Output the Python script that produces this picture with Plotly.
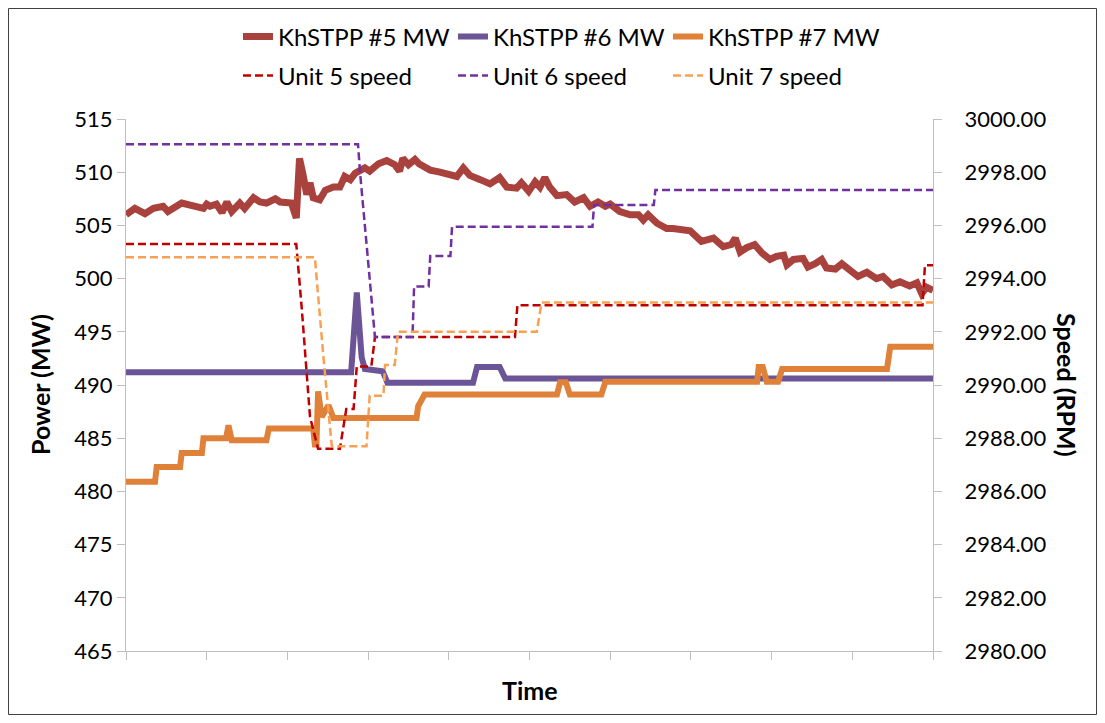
import plotly.graph_objects as go

# ---------------- data ----------------
t_mw5 = [0, 1.1, 2.35, 3.4, 4.6, 5.2, 6.9, 8.3, 9.6, 10.0, 10.4, 11.2, 11.9, 12.5, 13.1, 14.1, 14.7,
         15.8, 16.6, 17.4, 18.5, 19.1, 20.5, 21.1, 21.5, 21.9, 22.4, 22.8, 23.2, 24.0, 24.7, 25.7,
         26.5, 27.1, 27.8, 28.4, 29.0, 29.6, 30.2, 31.3, 32.3, 33.3, 33.9, 34.3, 35.0, 35.8, 36.3,
         37.7, 38.9, 40.1, 41.0, 41.8, 42.6, 43.9, 45.1, 46.3, 47.2, 48.4, 49.0, 49.9, 50.7, 51.3,
         51.9, 52.5, 53.4, 54.6, 55.6, 56.7, 57.5, 58.5, 59.4, 60.0, 61.2, 62.5, 63.5, 64.1, 64.7,
         65.8, 67.0, 67.8, 68.9, 69.9, 71.3, 72.8, 74.0, 75.0, 75.5, 76.1, 76.9, 77.9, 78.8, 79.8,
         80.6, 81.5, 81.9, 82.7, 83.9, 84.5, 85.4, 86.2, 86.8, 87.9, 88.7, 89.7, 90.7, 91.8, 93.0,
         93.8, 94.9, 95.9, 97.1, 98.0, 98.6, 99.2, 100]
mw5 = [506.0, 506.6, 506.1, 506.6, 506.8, 506.3, 507.1, 506.8, 506.6, 507.0, 506.8, 507.0, 506.2,
       507.2, 506.3, 507.1, 506.6, 507.6, 507.2, 507.1, 507.5, 507.2, 507.1, 505.7, 511.3, 509.9,
       507.9, 509.0, 507.6, 507.4, 508.3, 508.6, 508.6, 509.6, 509.3, 509.9, 510.1, 510.4, 510.1,
       510.8, 511.1, 510.7, 510.1, 511.3, 510.7, 511.2, 510.8, 510.2, 510.0, 509.8, 509.6, 510.4,
       509.7, 509.3, 508.9, 509.5, 508.6, 508.5, 509.0, 508.2, 509.1, 508.6, 509.5, 508.6, 507.8,
       507.9, 507.2, 507.6, 506.8, 507.2, 506.8, 507.0, 506.3, 506.0, 506.0, 505.5, 506.0, 505.2,
       504.7, 504.7, 504.6, 504.5, 503.5, 503.8, 503.0, 503.2, 503.8, 502.5, 502.9, 503.2, 502.4,
       501.8, 502.1, 502.2, 501.3, 501.8, 501.9, 501.1, 501.4, 501.8, 501.0, 500.9, 501.4, 500.7,
       500.2, 500.6, 500.0, 500.2, 499.4, 499.7, 499.3, 499.6, 498.6, 499.2, 498.9]

t_mw6 = [0, 27.9, 28.6, 29.2, 29.6, 31.8, 32.4, 43.0, 43.5, 46.3, 47.0, 100]
mw6 = [491.2, 491.2, 498.7, 492.6, 491.5, 491.3, 490.2, 490.2, 491.7, 491.7, 490.6, 490.6]

t_mw7 = [0, 3.6, 3.8, 6.7, 6.9, 9.4, 9.6, 12.4, 12.7, 13.1, 17.4, 17.7, 23.2, 23.4, 23.6, 23.8,
         24.25, 25.1, 25.7, 36.0, 36.2, 37.0, 53.4, 53.8, 54.5, 55.0, 58.9, 59.4, 78.2, 78.4,
         78.9, 79.4, 80.8, 81.3, 94.3, 94.7, 100]
mw7 = [480.9, 480.9, 482.3, 482.3, 483.6, 483.6, 485.0, 485.0, 486.2, 484.8, 484.8, 485.9, 485.9,
       484.4, 484.4, 489.4, 487.0, 488.1, 486.9, 486.9, 488.0, 489.1, 489.1, 490.25, 490.25, 489.1,
       489.1, 490.3, 490.3, 491.7, 491.7, 490.3, 490.3, 491.5, 491.5, 493.6, 493.6]

t_sp5 = [0, 21.1, 21.8, 22.8, 23.8, 26.5, 27.3, 28.2, 28.6, 30.4, 30.85, 48.2, 48.5, 98.7, 99.0, 100]
sp5 = [2995.3, 2995.3, 2992.8, 2988.8, 2987.6, 2987.6, 2989.1, 2989.1, 2990.7, 2990.7, 2991.8,
       2991.8, 2993.0, 2993.0, 2994.5, 2994.5]

t_sp6 = [0, 28.75, 29.0, 30.85, 35.5, 35.7, 37.5, 37.7, 40.2, 40.4, 57.8, 58.0, 65.4, 65.6, 100]
sp6 = [2999.05, 2999.05, 2998.0, 2991.8, 2991.8, 2993.7, 2993.7, 2994.85, 2994.85, 2995.95,
       2995.95, 2996.77, 2996.77, 2997.33, 2997.33]

t_sp7 = [0, 23.4, 24.45, 25.5, 29.8, 30.2, 31.9, 32.1, 33.3, 33.7, 50.9, 51.5, 100]
sp7 = [2994.8, 2994.8, 2991.1, 2987.7, 2987.7, 2989.6, 2989.6, 2990.75, 2990.75, 2992.0, 2992.0,
       2993.1, 2993.1]

names_mw = ["KhSTPP #5 MW", "KhSTPP #6 MW", "KhSTPP #7 MW"]
names_sp = ["Unit 5 speed", "Unit 6 speed", "Unit 7 speed"]
x_ticks = [0, 10, 20, 30, 40, 50, 60, 70, 80, 90, 100]
left_ticks = [465, 470, 475, 480, 485, 490, 495, 500, 505, 510, 515]
right_ticks = [2980, 2982, 2984, 2986, 2988, 2990, 2992, 2994, 2996, 2998, 3000]

# ---------------- styling ----------------
FONT = "Lato"
c_mw = ["#A9413C", "#6B5597", "#E08139"]
w_mw = [7, 6, 6]
c_sp = ["#C00000", "#7030A0", "#F9A052"]
AXC = "#BFBFBF"

fig = go.Figure()
for tx, vy, nm, cl, lw in zip([t_mw5, t_mw6, t_mw7], [mw5, mw6, mw7], names_mw, c_mw, w_mw):
    fig.add_trace(go.Scatter(x=tx, y=vy, name=nm, mode="lines",
                             line=dict(color=cl, width=lw), legend="legend"))
for tx, vy, nm, cl in zip([t_sp5, t_sp6, t_sp7], [sp5, sp6, sp7], names_sp, c_sp):
    fig.add_trace(go.Scatter(x=tx, y=vy, name=nm, mode="lines", yaxis="y2",
                             line=dict(color=cl, width=2.5, dash="8px,4px"), legend="legend2"))

# figure placed with the browser's 8px body margin; plot area at page x 126..933, y 119..651
W, H = 1089, 707
ml, mt = 118, 111
pw, ph = 807, 532
mr = W - ml - pw
mb = H - mt - ph


def px(xpage):
    return (xpage - 126) / pw


def py(ypage):
    return (651 - ypage) / ph


leg_common = dict(orientation="h", xanchor="left", yanchor="middle",
                  font=dict(size=24), bgcolor="rgba(0,0,0,0)",
                  entrywidth=170, entrywidthmode="pixels")

fig.update_layout(
    width=W, height=H,
    margin=dict(l=ml, r=mr, t=mt, b=mb, pad=0, autoexpand=False),
    paper_bgcolor="white", plot_bgcolor="white",
    font=dict(family=FONT, size=22, color="#000000"),
    xaxis=dict(range=[0, 100], tickvals=x_ticks, showticklabels=False, ticks="outside",
               ticklen=8, tickcolor=AXC, showline=True, linecolor=AXC, linewidth=1,
               showgrid=False, zeroline=False),
    yaxis=dict(range=[465, 515], tickvals=left_ticks, ticks="outside", ticklen=8,
               tickcolor=AXC, showline=True, linecolor=AXC, linewidth=1, showgrid=False,
               zeroline=False, tickfont=dict(size=22)),
    yaxis2=dict(range=[2980, 3000], tickvals=right_ticks, tickformat=".2f", overlaying="y",
                side="right", ticks="outside", ticklen=8, tickcolor=AXC, showline=True,
                linecolor=AXC, linewidth=1, showgrid=False, zeroline=False,
                ticklabelstandoff=18, tickfont=dict(size=22)),
    legend=dict(x=px(238), y=py(37), **leg_common),
    legend2=dict(x=px(238), y=py(76), **leg_common),
    showlegend=True,
    annotations=[
        dict(text="<b>Power (MW)</b>", x=px(40), y=py(385), xref="paper", yref="paper",
             xanchor="center", yanchor="middle", textangle=-90, showarrow=False,
             font=dict(size=25)),
        dict(text="<b>Speed (RPM)</b>", x=px(1067), y=py(385), xref="paper", yref="paper",
             xanchor="center", yanchor="middle", textangle=90, showarrow=False,
             font=dict(size=25)),
        dict(text="<b>Time</b>", x=px(530), y=py(690), xref="paper", yref="paper",
             xanchor="center", yanchor="middle", showarrow=False, font=dict(size=25)),
    ],
    shapes=[dict(type="rect", xref="paper", yref="paper",
                 x0=px(8.5), x1=px(1096.5), y0=py(714.5), y1=py(8.5),
                 line=dict(color="#404040", width=1))],
)

fig.write_html("out.html")
